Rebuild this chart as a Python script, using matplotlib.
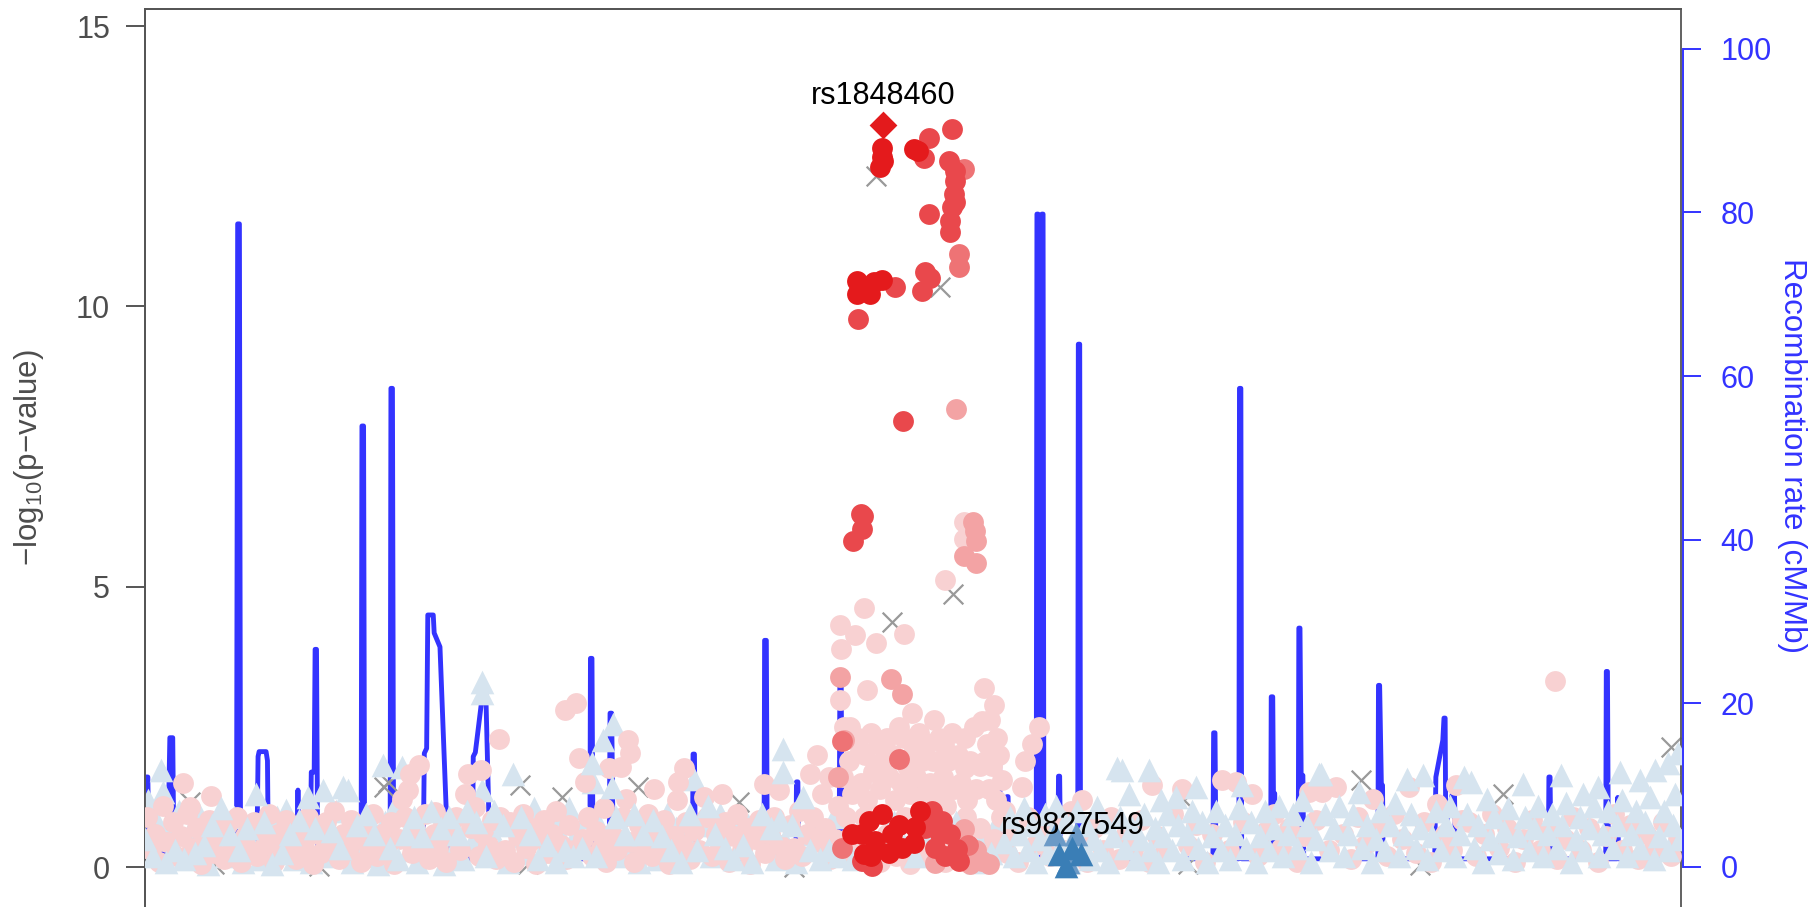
import numpy as np
import matplotlib
matplotlib.use("Agg")
import matplotlib.pyplot as plt

plt.rcParams['font.family'] = ['Liberation Sans', 'DejaVu Sans']
plt.rcParams['mathtext.default'] = 'regular'

# positions are in kb across the region, values are -log10(p)
lead_snp = (637, 13.24)
lead_name = "rs1848460"
second_name = "rs9827549"
second_pos = 800

# recombination rate (cM/Mb)
recomb = [(0, 11.0), (2.5, 11.0), (3.5, 2), (18, 1.5), (20.5, 8), (21.5, 15.8), (24, 15.8), (25, 1.0),
          (50, 0.8), (79, 1), (80, 78.6), (81.5, 78.6), (82.5, 1), (96.5, 1), (97.6, 13.5), (98.5, 14.1),
          (104.5, 14.1), (105.7, 13), (106.5, 1), (131, 1), (132, 9.4), (133, 1), (142.5, 1), (143.5, 11.6),
          (146, 11.6), (146.8, 26.6), (148, 26.6), (149, 1.5), (186.5, 1), (187.2, 53.9), (188.6, 53.9),
          (189.5, 1), (211.5, 1), (212.2, 58.5), (213.5, 58.5), (214.5, 1), (240, 1), (241, 13.9),
          (243, 14.5), (244, 30.8), (248.7, 30.8), (249.5, 28.6), (254.5, 26.9), (260.2, 6), (261.5, 1),
          (282.5, 1), (283.2, 13.5), (285, 14), (291.5, 21.5), (294, 21.5), (297.6, 1), (383.8, 1),
          (384.3, 25.5), (385.6, 25.5), (386.5, 1), (400.5, 1), (401.2, 18.8), (402.6, 18.8), (404, 1),
          (472.2, 1), (472.8, 13.8), (474, 13.8), (474.8, 1), (534, 1), (534.5, 27.7), (536, 27.7),
          (536.8, 1), (561.5, 1), (562, 10.4), (563.2, 10.4), (564, 1), (598.8, 1), (599.4, 22),
          (600.6, 22), (601.4, 1), (666.8, 1), (667.3, 10.3), (668.3, 10.3), (669, 1), (735.5, 1),
          (736, 13.6), (737.2, 13.6), (738, 1), (743, 1), (743.5, 8.6), (744.5, 8.6), (745.3, 1),
          (768.8, 1), (769.4, 79.8), (770.4, 79.8), (771, 1.5), (773.2, 1.5), (773.7, 79.8),
          (774.7, 79.8), (775.4, 1), (787.5, 1), (788, 11.1), (789, 11.1), (789.8, 1), (804.6, 1),
          (805.1, 63.9), (806.3, 63.9), (807, 1), (921.2, 1), (921.8, 16.4), (923, 16.4), (923.8, 1),
          (943.6, 1), (944.1, 58.5), (945.3, 58.5), (946, 1), (971, 1), (971.5, 20.8), (972.8, 20.8),
          (973.4, 9), (974.5, 9), (975.2, 1), (994.8, 1), (995.3, 29.2), (996.3, 29.2), (997.3, 11.2),
          (998.8, 11.2), (999.5, 1), (1063.5, 1), (1064, 22.2), (1065, 22.2), (1066.5, 10), (1067.5, 10),
          (1068, 1), (1112.5, 1), (1113.5, 11), (1119.5, 15.5), (1120.5, 18.2), (1121.5, 18.2),
          (1122, 5), (1128.5, 9.5), (1129.5, 9.5), (1130.5, 1), (1210.5, 1), (1211, 11), (1212, 11),
          (1212.8, 1), (1260, 1), (1260.5, 23.9), (1261.5, 23.9), (1262.3, 1), (1269.8, 1), (1270.4, 8.5),
          (1271, 1), (1325, 1)]

# r2 >= 0.8
ld_red = [(636, 12.83), (636, 12.66), (637, 12.60), (634, 12.48), (663, 12.8), (667, 12.78),
          (614.2, 10.45), (614.2, 10.22), (625.7, 10.22), (628.6, 10.44), (635.8, 10.48), (622.8, 10.3),
          (624.3, 0.83), (635.8, 0.95), (618.5, 0.59), (630, 0.47), (644.4, 0.59), (641.6, 0.26),
          (653, 0.35), (663.1, 0.44), (668.9, 1.0), (664.5, 0.71), (619.9, 0.23), (609.9, 0.6),
          (650, 0.75), (626, 0.2)]
ld_mid = [(676, 13.0), (672, 12.65), (696.3, 13.16), (693.4, 12.6), (699.1, 12.42), (699.1, 12.24),
          (697.7, 12.0), (699.1, 11.86), (696.3, 11.77), (694.8, 11.53), (694.8, 11.32), (676, 11.64),
          (647.3, 10.34), (673.2, 10.61), (670.3, 10.28), (677.5, 10.5), (615.1, 9.78), (653.9, 7.95),
          (619.4, 6.27), (618.5, 6.03), (610.5, 5.82), (617.5, 6.3), (679, 1.0), (687.6, 0.83),
          (694.8, 0.59), (700.5, 0.32), (681.8, 0.35), (702, 0.11), (618.5, 0.11), (627.1, 0.02),
          (686, 0.6), (673, 0.7), (690, 0.2)]
ld_salmon = [(702, 10.93), (702, 10.7), (706.3, 12.45), (601.3, 2.25), (601.3, 0.35), (650.2, 1.93),
             (710, 0.4)]
ld_light = [(706.3, 0.68), (722.1, 0.11), (727.9, 0.05), (681.8, 0.08), (712, 0.05), (700, 8.17),
            (714.1, 6.15), (715.8, 6.0), (717, 5.82), (706.3, 5.55), (717.2, 5.42), (599.8, 3.39),
            (643.9, 3.35), (653, 3.09), (602.6, 2.27), (717, 0.3), (598, 1.6)]

pink = [
    (2, 0.9), (5, 0.3), (9, 0.6), (12, 0.1), (16, 1.1), (19, 0.45), (24, 0.8), (27, 0.2), (31, 0.55),
    (33, 1.5), (36, 0.95), (38.6, 1.08), (41, 0.35), (45, 0.7), (48, 0.05), (52, 0.5), (55, 0.85),
    (57, 1.27), (60, 0.25), (64, 0.6), (68, 0.15), (71, 0.75), (75, 0.4), (79, 0.9), (83, 0.1),
    (86, 0.55), (90, 0.3), (94, 0.8), (97, 0.2), (100, 0.65),
    (104, 0.4), (107, 0.95), (111, 0.1), (115, 0.6), (119, 0.3), (122, 0.85), (126, 0.5), (130, 0.15),
    (134, 0.7), (137, 0.35), (141, 0.9), (145, 0.05), (148, 0.6), (152, 0.25), (156, 0.8), (160, 0.45),
    (163, 1.0), (167, 0.15), (171, 0.6), (175, 0.3), (178, 0.85), (182, 0.5), (186, 0.1), (189, 0.7),
    (193, 0.35), (197, 0.95), (200, 0.2),
    (204, 0.6), (208, 0.3), (212, 0.8), (215, 0.05), (219, 0.5), (222, 1.22), (224, 0.9), (227, 1.37),
    (229, 1.67), (230, 0.25), (233, 0.7), (236, 1.82), (238, 0.4), (242, 0.95), (245, 0.15), (249, 0.6),
    (250, 0.98), (253, 0.35), (257, 0.8), (260, 0.1), (264, 0.55), (268, 0.9), (272, 0.3), (276, 1.31),
    (279, 1.67), (281, 0.7), (285, 1.08), (288, 0.2), (290, 1.73), (292, 0.6), (296, 0.4), (299, 0.85),
    (303, 0.15), (305, 2.28), (306, 0.9), (311, 0.3), (315, 0.8), (318, 0.1), (322, 0.55), (326, 0.95),
    (329, 0.35), (333, 0.7), (337, 0.05), (340, 0.5), (344, 0.85), (348, 0.25), (351, 0.6), (355, 1.0),
    (359, 0.4), (362, 2.81), (363, 0.15), (366, 0.75), (370, 0.3), (372, 2.93), (374, 1.94), (378, 0.5),
    (380, 1.52), (382, 0.9), (386, 0.2), (389, 0.65), (393, 0.35), (396, 1.05), (398, 0.1), (400, 1.76),
    (403, 0.6), (407, 0.3), (411, 1.79), (412, 0.9), (415, 1.22), (417, 2.27), (418, 2.04), (419, 0.45),
    (422, 0.1), (426, 0.75), (430, 0.35), (434, 0.95), (437, 0.2), (439, 1.4), (441, 0.6), (445, 0.3),
    (448, 0.85), (452, 0.05), (456, 0.55), (459, 1.19), (460, 1.52), (463, 0.4), (465, 1.76), (467, 0.8),
    (470, 0.15), (474, 0.65), (478, 0.3), (482, 1.25), (485, 0.9), (489, 0.2), (493, 0.6), (496, 0.35),
    (498, 1.31),
    (500, 0.8), (504, 0.1), (508, 0.55), (511, 0.95), (515, 0.3), (519, 0.7), (522, 0.05), (526, 0.5),
    (530, 0.85), (534, 1.49), (535, 0.25), (539, 0.6), (543, 0.9), (547, 1.37), (548, 0.4), (552, 0.15),
    (556, 0.75), (560, 0.35), (564, 1.0), (567, 0.2), (571, 0.6), (574, 1.67), (576, 0.9), (580, 2.0),
    (581, 0.45), (584, 1.3), (587, 0.7), (590, 1.6), (591, 0.15), (595, 0.5), (598, 1.1),
    (599.2, 4.32), (599.8, 2.99), (600.6, 3.9), (603, 2.5), (608, 2.5), (612.2, 4.14), (617, 2.09),
    (620.5, 4.62), (622.8, 3.16), (630.9, 3.99), (654.5, 4.16), (661.7, 2.75), (680.4, 2.62), (689, 2.18),
    (689.9, 5.12), (706.3, 6.15), (706.3, 5.86), (723.6, 3.2), (732.2, 2.89), (729.3, 2.62), (726.4, 2.2),
    (735, 2.3), (725, 1.9), (739.4, 1.55), (707.7, 1.76),
    (602, 1.6), (605, 0.9), (607, 1.9), (610, 1.3), (613, 0.4), (615, 2.3), (618, 1.5), (621, 2.0),
    (623, 1.2), (626, 2.4), (628, 1.7), (632, 2.2), (634, 1.4), (637, 1.9), (640, 2.3), (642, 1.6),
    (645, 2.0), (647, 1.2), (650, 2.5), (652, 1.5), (655, 2.3), (657, 1.8), (660, 1.3), (663, 2.1),
    (665, 1.6), (668, 2.4), (670, 1.9), (672, 1.3), (675, 2.2), (677, 1.5), (680, 1.9), (683, 1.3),
    (685, 2.3), (688, 1.6), (691, 1.1), (693, 1.9), (696, 2.4), (698, 1.4), (701, 2.0), (704, 1.5),
    (707, 2.3), (709, 1.2), (712, 1.9), (715, 2.5), (717, 1.4), (720, 1.8), (722, 2.6), (728, 1.4),
    (731, 1.8), (734, 1.2), (737, 2.0), (742, 1.0),
    (606, 0.5), (612, 0.2), (620, 0.9), (626, 0.3), (634, 0.1), (640, 0.6), (648, 0.2), (656, 0.9),
    (660, 0.05), (666, 0.3), (676, 0.2), (690, 0.1), (696, 0.5), (708, 0.9), (714, 0.3), (720, 0.7),
    (726, 0.2), (732, 0.5), (738, 0.9), (744, 0.25),
    (748, 0.6), (753, 0.1), (756.7, 1.43), (759.5, 1.9), (765.3, 2.2), (771.1, 2.5), (762, 0.9),
    (768, 0.4), (775, 0.7), (781, 0.2), (787, 0.8), (793, 0.3), (799, 1.0), (808.5, 1.2), (806, 0.5),
    (813, 0.1), (819, 0.7), (826, 0.3), (833, 0.9), (840, 0.15), (846, 0.6), (852, 0.3), (859, 0.85),
    (866, 0.1), (868.9, 1.46), (873, 0.55), (880, 0.3), (887, 0.95), (894.8, 1.4), (900, 0.4),
    (907, 0.75), (914, 0.1), (920, 0.6), (929.3, 1.55), (935, 0.3), (941, 1.52), (947, 0.8),
    (955.3, 1.31), (960, 0.2), (967, 0.65), (974, 0.95), (980, 0.35), (987, 0.7), (994, 0.1),
    (1000, 0.55), (1004.2, 1.34), (1010, 0.85), (1015.7, 1.34), (1021, 0.3), (1027, 1.43), (1033, 0.6),
    (1040, 0.15), (1046, 0.9), (1052, 0.4), (1058.9, 1.22), (1064, 0.7), (1071, 0.2), (1077, 0.95),
    (1084, 0.5), (1090.5, 1.43), (1096, 0.25), (1103, 0.8), (1109, 0.1), (1114.9, 1.13), (1121, 0.6),
    (1127, 0.3), (1130.8, 1.47), (1136, 0.85), (1142.3, 0.8), (1148, 0.2), (1155, 0.6), (1162, 0.95),
    (1168, 0.35), (1175, 0.7), (1182, 0.1), (1189, 0.5), (1196, 0.85), (1203, 0.3), (1210, 0.65),
    (1216.6, 3.32), (1218, 0.15), (1225, 0.5), (1232, 0.9), (1239, 0.3), (1246, 0.7), (1253, 0.1),
    (1260, 0.55), (1267, 0.95), (1274, 0.3), (1281, 0.75), (1288, 0.15), (1295, 0.6), (1302, 0.35),
    (1309, 0.8), (1316, 0.2), (1322, 0.5)]

tri_light = [
    (0, 0.5), (3, 1.2), (7, 0.2), (10, 0.8), (14.1, 1.73), (15.6, 1.34), (18, 0.1), (22, 0.6), (26, 0.3),
    (29, 1.0), (34, 0.15), (39, 0.65), (43, 0.25), (47, 0.95), (51, 0.4), (54, 0.05), (58, 0.75),
    (62, 0.35), (66, 1.05), (70, 0.2), (73, 0.6), (77, 0.9), (81, 0.3), (85, 0.1), (88, 0.7), (92, 0.4),
    (96.2, 1.31), (99, 0.15), (103, 0.8), (106, 0.5), (110, 0.05), (114, 0.9), (118, 0.25), (122.1, 1.02),
    (125, 0.6), (129, 0.15), (133, 0.85), (136, 0.4), (140.8, 1.26), (143, 0.1), (147, 0.7), (150, 0.3),
    (153.7, 1.37), (157, 0.2), (161, 0.65), (165, 1.0), (168, 0.35), (171, 1.43), (175.3, 1.37),
    (179, 0.1), (183, 0.75), (187, 0.45), (191, 0.95), (194, 0.2), (198, 0.6), (201, 0.05), (205.5, 1.82),
    (207, 0.8), (211, 0.35), (215, 1.05), (218, 0.15), (221.4, 1.79), (225, 0.6), (228, 0.3), (232, 0.9),
    (235, 0.1), (239, 0.55), (243, 0.25), (247, 1.0), (251, 0.4), (255, 0.7), (258, 0.05), (262, 0.9),
    (266, 0.3), (270, 0.6), (274, 0.15), (278, 1.0), (282, 0.45), (286, 0.8), (291, 3.3), (291, 3.1),
    (291, 1.37), (294, 0.2), (298, 0.7), (301, 1.0), (305, 0.35), (309, 0.75), (313, 0.1), (317.8, 1.67),
    (320, 0.55), (324, 0.9), (328, 0.25), (332, 0.6), (336, 1.05), (339, 0.15), (343, 0.7), (347, 0.4),
    (351, 0.95), (355, 0.1), (358, 0.6), (362, 0.3), (366, 1.05), (369, 0.2), (373, 0.65), (377, 0.35),
    (381, 0.9), (385.4, 1.85), (386.7, 1.52), (389, 0.2), (392, 0.75), (395.5, 2.27), (397, 0.45),
    (402.7, 1.43), (404.1, 2.56), (406, 0.9), (410, 0.2), (414, 0.6), (418, 0.35), (422, 0.95), (426, 0.1),
    (430, 0.6), (434, 0.3), (438, 0.85), (442, 0.15), (446, 0.55), (450, 0.95), (454, 0.3), (458, 0.7),
    (462, 0.1), (466, 0.55), (470, 0.95), (473.2, 1.58), (476, 0.3), (480, 0.75), (486.1, 1.1), (488, 0.2),
    (492, 0.6), (496, 0.95), (500, 0.35), (504, 0.7), (508, 0.15), (512, 0.9), (516, 0.4), (520, 0.75),
    (524, 0.1), (528, 0.55), (532, 0.95), (536, 0.3), (540, 0.7), (544, 0.15), (548, 0.85), (550, 2.1),
    (550, 1.7), (554, 0.4), (558, 0.75), (562, 0.1), (567.3, 1.25), (570, 0.6), (574, 0.3), (578, 0.85),
    (582, 0.15), (586, 0.6), (590, 0.3), (594, 0.9), (598, 0.2),
    (604, 0.5), (611, 0.15), (619, 0.8), (628, 0.5), (637, 0.3), (646, 0.8), (655, 0.4), (664, 0.2),
    (673, 0.5), (682, 0.75), (692, 0.3), (700, 0.8), (710, 0.45), (718, 0.1), (724, 0.6), (730, 0.25),
    (736, 0.85), (741, 0.45)]
tri_light_right = [
    (746, 0.9), (750, 0.2), (754, 0.6), (758, 1.05), (761, 0.3), (765, 0.75), (769, 0.1), (772, 0.5),
    (776, 0.95), (779, 0.25), (783, 0.65), (786, 1.1), (790, 0.4), (794, 0.8), (797, 0.1), (801, 0.55),
    (804, 1.0), (808, 0.3), (812, 0.75), (815, 0.15), (818, 0.5), (821, 1.08), (824, 0.3), (828, 0.8),
    (831, 0.1), (835, 0.55), (838.7, 1.76), (843, 1.73), (841, 0.9), (845, 0.35), (848.7, 1.31),
    (851, 0.7), (855, 0.15), (858, 0.5), (862, 0.95), (866, 1.73), (867, 0.3), (871, 0.7), (874, 0.1),
    (876, 1.2), (878, 0.55), (882, 0.95), (886, 0.3), (889, 1.25), (891, 0.75), (895, 0.15), (899, 0.6),
    (903, 1.0), (906.3, 1.43), (908, 0.35), (912, 0.8), (916, 0.1), (920, 0.55), (924, 1.0), (928, 0.3),
    (932, 0.75), (936, 0.15), (940, 0.6), (944, 1.05), (946.6, 1.46), (950, 0.35), (954, 0.8), (958, 0.1),
    (962, 0.55), (966, 1.0), (970, 0.3), (974, 0.7), (978, 1.1), (982, 0.2), (986, 0.6), (990, 0.95),
    (994, 0.35), (998.4, 1.2), (1002, 0.75), (1006, 0.1), (1010, 0.5), (1012.8, 1.67), (1014.2, 1.67),
    (1018, 0.95), (1022, 0.3), (1026, 0.7), (1030, 1.1), (1034, 0.2), (1038, 0.6), (1042, 0.95),
    (1047.3, 1.34), (1050, 0.35), (1054, 0.75), (1058, 0.1), (1062, 0.5), (1066, 1.0), (1070, 0.3),
    (1074, 0.75), (1078, 1.15), (1082, 0.2), (1086, 0.6), (1088.4, 1.58), (1092, 0.95), (1096, 0.35),
    (1100, 0.7), (1102.8, 1.64), (1106, 0.15), (1110, 0.55), (1114, 1.0), (1118, 0.3), (1122, 0.75),
    (1126, 1.1), (1130, 0.2), (1134, 0.6), (1137.8, 1.61), (1140, 0.95), (1143.5, 1.52), (1146, 0.35),
    (1150, 0.75), (1154, 0.1), (1157.9, 1.22), (1160, 0.5), (1164, 0.9), (1168, 0.25), (1172, 0.65),
    (1176, 1.05), (1180, 0.15), (1184, 0.55), (1188.4, 1.49), (1190, 0.9), (1194, 0.3), (1198, 0.7),
    (1202, 1.1), (1206, 0.2), (1210, 0.6), (1214, 0.95), (1218, 0.35), (1221.5, 1.64), (1222, 0.75),
    (1226, 1.15), (1230, 0.1), (1234, 0.5), (1238, 0.9), (1240.2, 1.31), (1242, 0.3), (1246, 0.7),
    (1250, 1.1), (1253, 1.43), (1254, 0.2), (1258, 0.6), (1262, 1.0), (1266, 0.35), (1270, 0.75),
    (1271.9, 1.7), (1274, 1.2), (1278, 0.2), (1282, 0.6), (1286, 1.0), (1289.2, 1.55), (1290, 0.35),
    (1294, 0.8), (1298, 1.25), (1302.2, 1.73), (1302, 0.15), (1306, 0.55), (1310, 1.0), (1313.6, 1.85),
    (1314, 0.3), (1318, 0.75), (1320, 1.3), (1322.2, 2.03), (1324, 0.5)]
tri_mid = [(785.4, 0.59), (802.7, 0.59), (796, 0.1)]
tri_dark = [(788.3, 0.23), (799.8, 0.35), (807, 0.23), (794.1, 0.02)]

crosses = [(38.6, 1.16), (206, 1.43), (210, 1.52), (323.5, 1.46), (360.1, 1.25), (425.7, 1.43),
           (512.6, 1.16), (631, 12.33), (686, 10.34), (697, 4.88), (644.4, 4.37), (1048.8, 1.55),
           (1171.1, 1.31), (1316.4, 2.15), (896, 1.2), (60, 0.05), (150, 0.02), (330, 0.05),
           (560, 0.0), (900, 0.05), (1100, 0.04)]

BLUE = '#3333FF'
GREY = '#555555'
S_CIRCLE = 225
S_TRI = 290

fig = plt.figure(figsize=(18.16, 9.07), dpi=100)
ax = fig.add_axes([0.0798, 0.0, 0.8459, 0.9904])
ax2 = ax.twinx()
ax.set_zorder(ax2.get_zorder() + 1)
ax.patch.set_visible(False)

rx, ry = np.array(recomb).T
ax2.plot(rx, ry, color=BLUE, lw=3.5, solid_joinstyle='round', solid_capstyle='round')


def pts(ax, data, marker, color, s, z):
    x, y = np.array(data).T
    ax.scatter(x, y, marker=marker, s=s, c=color, linewidths=0, zorder=z)


# grey crosses sit underneath the coloured points
cx, cy = np.array(crosses).T
ax.scatter(cx, cy, marker='x', s=200, c='#999999', linewidths=1.6, zorder=1.5)
# light triangles and light circles overlap each other, so draw them in two passes
pts(ax, tri_light[1::2], '^', '#D6E4EF', S_TRI, 2)
pts(ax, pink, 'o', '#F8D1D2', S_CIRCLE, 3)
pts(ax, tri_light[::2], '^', '#D6E4EF', S_TRI, 3.5)
pts(ax, tri_light_right, '^', '#D6E4EF', S_TRI, 4)
pts(ax, ld_light, 'o', '#F3A3A4', S_CIRCLE, 5)
pts(ax, ld_salmon, 'o', '#EE7375', S_CIRCLE, 6)
pts(ax, ld_mid, 'o', '#E9484C', S_CIRCLE, 7)
pts(ax, ld_red, 'o', '#E41A1C', S_CIRCLE, 8)
pts(ax, tri_mid, '^', '#6B9AC7', S_TRI, 8)
pts(ax, tri_dark, '^', '#3A7EB6', S_TRI, 9)
ax.scatter([lead_snp[0]], [lead_snp[1]], marker='D', s=200, c='#E31A1C', linewidths=0, zorder=10)

ax.text(lead_snp[0], 13.61, lead_name, ha='center', va='baseline', fontsize=22, zorder=11)
ax.text(second_pos, 0.6, second_name, ha='center', va='baseline', fontsize=22, zorder=11)

ax.set_xlim(0, 1325)
ax.set_ylim(-0.71, 15.31)
ax2.set_ylim(-4.89, 104.9)
ax.set_xticks([])

ax.set_yticks([0, 5, 10, 15])
ax.tick_params(axis='y', length=14, width=1.4, color=GREY, labelsize=22, labelcolor='#4D4D4D', pad=11)
ax2.set_yticks([0, 20, 40, 60, 80, 100])
ax2.tick_params(axis='y', length=13, width=1.4, color=BLUE, labelsize=22, labelcolor=BLUE, pad=14)

for a in (ax, ax2):
    a.spines['bottom'].set_visible(False)
    a.spines['top'].set_color(GREY)
    a.spines['left'].set_color(GREY)
    a.spines['top'].set_linewidth(1.3)
    a.spines['left'].set_linewidth(1.3)
ax.spines['right'].set_color(GREY)
ax.spines['right'].set_linewidth(1.3)
ax2.spines['right'].set_color(BLUE)
ax2.spines['right'].set_linewidth(1.4)
ax2.spines['right'].set_bounds(0, 100)
ax2.spines['right'].set_position(('outward', 1.5))

fig.text(29 / 1816, 1 - 458 / 907, '\u2212log$_{10}$(p\u2212value)', rotation=90,
         ha='center', va='center', fontsize=22.5, color='#4D4D4D')
fig.text(1792 / 1816, 1 - 456 / 907, 'Recombination rate (cM/Mb)', rotation=270,
         ha='center', va='center', fontsize=22.5, color=BLUE)

fig.savefig('out.png', dpi=100)
